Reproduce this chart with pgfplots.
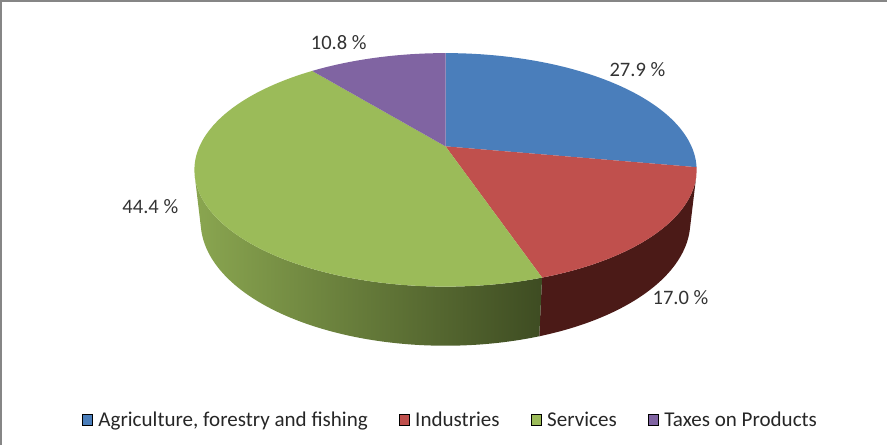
\documentclass[border=0pt]{standalone}
\usepackage{pgfplots}
\pgfplotsset{compat=1.18}
\usepackage{pgfplotstable}
\usepackage{fontspec}
\setmainfont{Carlito}

\definecolor{agri}{RGB}{74,126,187}
\definecolor{indu}{RGB}{192,80,77}
\definecolor{serv}{RGB}{155,187,89}
\definecolor{taxe}{RGB}{128,100,162}
\definecolor{induside}{RGB}{75,26,23}
\definecolor{servsideL}{RGB}{138,166,80}
\definecolor{servsideM}{RGB}{108,134,60}
\definecolor{servsideR}{RGB}{62,76,34}
\definecolor{framegray}{RGB}{134,134,134}

% share of GDP by sector, percent
\pgfplotstableread{
sector      value
Agriculture 27.9
Industries  17.0
Services    44.4
Taxes       10.8
}\piedata

\begin{document}
\begin{tikzpicture}
\pgfplotstablegetelem{0}{value}\of\piedata \let\vA\pgfplotsretval
\pgfplotstablegetelem{1}{value}\of\piedata \let\vB\pgfplotsretval
\pgfplotstablegetelem{2}{value}\of\piedata \let\vC\pgfplotsretval
\pgfplotstablegetelem{3}{value}\of\piedata \let\vD\pgfplotsretval
\pgfmathsetmacro\tot{\vA+\vB+\vC+\vD}
\pgfmathsetmacro\deg{360/\tot}
% slice borders, degrees clockwise from 12 o'clock
\pgfmathsetmacro\aA{\deg*\vA}
\pgfmathsetmacro\aB{\deg*(\vA+\vB)}
\pgfmathsetmacro\aC{\deg*(\vA+\vB+\vC)}
% visible part of the rim lies between 104.7 and 255.3 degrees
\pgfmathsetmacro\sR{max(\aA,104.7)}
\pgfmathsetmacro\sL{min(\aC,255.3)}

\begin{axis}[
  width=888pt, height=447pt, scale only axis,
  xmin=0, xmax=888, ymin=0, ymax=447,
  hide axis, clip=false,
  declare function={
    dep(\r,\t,\z)=4.416+\r*cos(\t)*0.890-\z*0.4554;
    px(\r,\t,\z)=447.5+1083.7*\r*sin(\t)/dep(\r,\t,\z);
    py(\r,\t,\z)=298+1083.7*(\r*cos(\t)*0.4554+\z*0.890)/dep(\r,\t,\z);
    rr(\s)=(\s>-0.5);
    wang(\s,\a,\b)=\a+(\b-\a)*max(\s,0);
    sang(\s,\a,\b)=(\s<1.5 ? \a+(\b-\a)*\s : \a+(\b-\a)*(3-\s));
    sz(\s)=(\s<1.5 ? 0 : -0.238);
  },
  legend image code/.code={\fill[#1] (0pt,-5.5pt) rectangle (10pt,5.5pt); \path (13pt,0pt);},
  legend columns=4,
  legend style={
    at={(axis cs:453,25)}, anchor=center, draw=none, fill=none,
    font=\fontsize{21}{25}\selectfont,
    nodes={inner xsep=3pt, text=black!85},
    /tikz/every even column/.append style={column sep=28pt},
  },
]
% rim (front part only)
\addplot[forget plot, draw=none, fill=induside,
  samples at={0,0.01,...,0.99,1,2,2.01,...,2.99,3}]
  ({px(1,sang(x,\sR,\aB),sz(x))},{py(1,sang(x,\sR,\aB),sz(x))});
\addplot[forget plot, draw=none, left color=servsideL, middle color=servsideM, right color=servsideR,
  samples at={0,0.01,...,0.99,1,2,2.01,...,2.99,3}]
  ({px(1,sang(x,\aB,\sL),sz(x))},{py(1,sang(x,\aB,\sL),sz(x))});
% top faces
\addplot[forget plot, draw=none, fill=agri, samples at={-1,0,0.01,...,0.99,1}]
  ({px(rr(x),wang(x,0,\aA),0)},{py(rr(x),wang(x,0,\aA),0)});
\addplot[forget plot, draw=none, fill=indu, samples at={-1,0,0.01,...,0.99,1}]
  ({px(rr(x),wang(x,\aA,\aB),0)},{py(rr(x),wang(x,\aA,\aB),0)});
\addplot[forget plot, draw=none, fill=serv, samples at={-1,0,0.01,...,0.99,1}]
  ({px(rr(x),wang(x,\aB,\aC),0)},{py(rr(x),wang(x,\aB,\aC),0)});
\addplot[forget plot, draw=none, fill=taxe, samples at={-1,0,0.01,...,0.99,1}]
  ({px(rr(x),wang(x,\aC,360),0)},{py(rr(x),wang(x,\aC,360),0)});

% data labels
\begin{scope}[every node/.style={font=\fontsize{20.5}{24}\selectfont, text=black!80}]
\node at (axis cs:639,375) {27.9 \%};
\node at (axis cs:682,147) {17.0 \%};
\node at (axis cs:153,238) {44.4 \%};
\node at (axis cs:341,402) {10.8 \%};
\end{scope}

% chart area frame (cut at the right and bottom)
\draw[framegray, line width=2pt] (axis cs:4,0) -- (axis cs:4,443) -- (axis cs:888,443);

\addlegendimage{fill=agri}\addlegendentry{Agriculture, forestry and fishing}
\addlegendimage{fill=indu}\addlegendentry{Industries}
\addlegendimage{fill=serv}\addlegendentry{Services}
\addlegendimage{fill=taxe}\addlegendentry{Taxes on Products}
\end{axis}
\end{tikzpicture}
\end{document}
